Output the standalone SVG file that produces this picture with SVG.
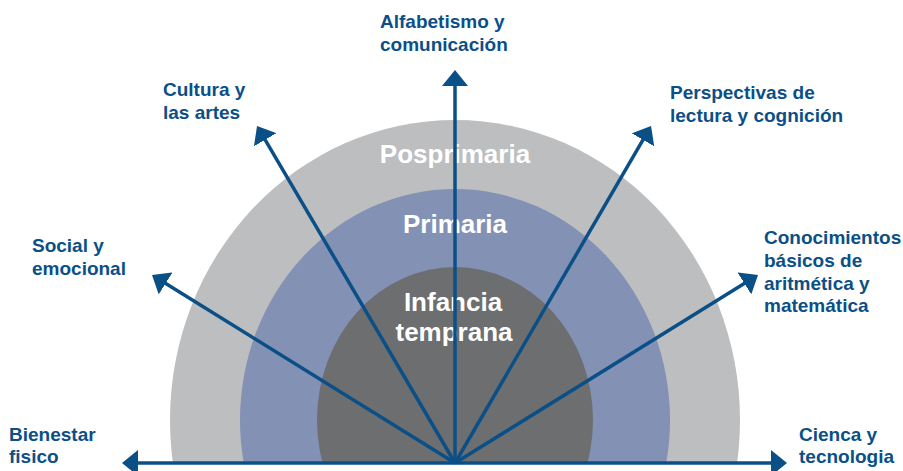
<svg xmlns="http://www.w3.org/2000/svg" width="903" height="471" viewBox="0 0 903 471">
  <defs>
    <clipPath id="top">
      <rect x="0" y="0" width="903" height="463"/>
    </clipPath>
    <marker id="ah" viewBox="0 0 16 26" markerUnits="userSpaceOnUse" markerWidth="16" markerHeight="26" refX="6" refY="13" orient="auto">
      <path d="M0,0 L16,13 L0,26 Z" fill="#0b4f87"/>
    </marker>
  </defs>
  <style>
    .lbl { font-family: "Liberation Sans", Arial, sans-serif; font-weight: bold; font-size: 19px; fill: #0b4f87; }
    .in { font-family: "Liberation Sans", Arial, sans-serif; font-weight: bold; font-size: 26px; fill: #ffffff; text-anchor: middle; }
    .arr { stroke: #0b4f87; stroke-width: 3.5; fill: none; marker-end: url(#ah); }
  </style>
  <rect width="903" height="471" fill="#ffffff"/>
  <g id="posprimaria" clip-path="url(#top)">
    <ellipse cx="455" cy="420" rx="285" ry="300" fill="#bdbec0"/>
  </g>
  <g id="primaria" clip-path="url(#top)">
    <ellipse cx="455" cy="420" rx="215" ry="231" fill="#8391b5"/>
  </g>
  <g id="infancia" clip-path="url(#top)">
    <ellipse cx="455" cy="420" rx="138" ry="153" fill="#6d6e70"/>
  </g>
  <g id="stage-labels">
    <text class="in" x="455" y="163">Posprimaria</text>
    <text class="in" x="455" y="233">Primaria</text>
    <text class="in" x="453" y="311">Infancia</text>
    <text class="in" x="454" y="341">temprana</text>
  </g>
  <g id="connectors">
    <line class="arr" x1="455" y1="463" x2="455" y2="80"/>
    <line class="arr" x1="455" y1="463" x2="262.1" y2="134.6"/>
    <line class="arr" x1="455" y1="463" x2="646" y2="134.6"/>
    <line class="arr" x1="455" y1="463" x2="160.5" y2="280.3"/>
    <line class="arr" x1="455" y1="463" x2="749.5" y2="280.3"/>
    <line class="arr" x1="455" y1="463" x2="132" y2="463"/>
    <line class="arr" x1="455" y1="463" x2="777" y2="463"/>
  </g>
  <g id="alfabetismo">
    <text class="lbl" x="380" y="28">Alfabetismo y</text>
    <text class="lbl" x="380" y="51">comunicación</text>
  </g>
  <g id="cultura">
    <text class="lbl" x="163" y="96">Cultura y</text>
    <text class="lbl" x="163" y="119">las artes</text>
  </g>
  <g id="social">
    <text class="lbl" x="32" y="252">Social y</text>
    <text class="lbl" x="32" y="275">emocional</text>
  </g>
  <g id="perspectivas">
    <text class="lbl" x="670" y="99">Perspectivas de</text>
    <text class="lbl" x="670" y="122">lectura y cognición</text>
  </g>
  <g id="conocimientos">
    <text class="lbl" x="764" y="244">Conocimientos</text>
    <text class="lbl" x="764" y="267">básicos de</text>
    <text class="lbl" x="764" y="290">aritmética y</text>
    <text class="lbl" x="764" y="312">matemática</text>
  </g>
  <g id="bienestar">
    <text class="lbl" x="9" y="441">Bienestar</text>
    <text class="lbl" x="9" y="463">fisico</text>
  </g>
  <g id="ciencia">
    <text class="lbl" x="799" y="441">Cienca y</text>
    <text class="lbl" x="799" y="463">tecnologia</text>
  </g>
</svg>
